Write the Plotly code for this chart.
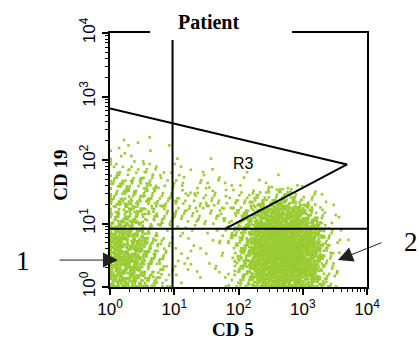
import numpy as np
import plotly.graph_objects as go

# Dot counts per grid cell (0.25 decade x 0.25 decade), rows from CD19 = 10^0 upward,
# columns from CD5 = 10^0 to 10^3.75
cell_size = 0.25
density_rows = [
    [60, 55, 28, 9, 2, 2, 2, 4, 30, 85, 115, 105, 65, 12, 1],
    [70, 62, 30, 9, 2, 2, 3, 5, 42, 115, 145, 140, 85, 15, 1],
    [70, 60, 28, 8, 2, 2, 3, 6, 42, 120, 150, 145, 88, 15, 1],
    [60, 50, 22, 7, 3, 3, 4, 8, 42, 115, 145, 135, 78, 12, 1],
    [30, 30, 20, 13, 10, 10, 10, 12, 25, 75, 95, 85, 42, 6, 0],
    [28, 28, 20, 13, 10, 10, 9, 8, 10, 22, 30, 24, 9, 1, 0],
    [20, 20, 13, 8, 6, 6, 5, 4, 3, 3, 2, 1, 0, 0, 0],
    [10, 8, 5, 3, 2, 1, 1, 0, 0, 0, 0, 0, 0, 0, 0],
    [3, 3, 2, 1, 0, 1, 0, 0, 0, 0, 0, 0, 0, 0, 0],
    [1, 0, 1, 0, 0, 0, 0, 0, 0, 0, 0, 0, 0, 0, 0],
]

# Quadrant cursors and the R3 gate
quad_x = 9.4
quad_y = 8.3
r3_x = [1, 4900, 63]
r3_y = [650, 85, 8.3]

tick_vals = [1, 10, 100, 1000, 10000]
tick_text = ["10<sup>0</sup>", "10<sup>1</sup>", "10<sup>2</sup>", "10<sup>3</sup>", "10<sup>4</sup>"]
minor_vals = [m * 10 ** d for d in range(4) for m in range(2, 10)]

# spread each cell's dots with a tent kernel two cells wide, driven by a
# 4-D low-discrepancy sequence, so neighbouring cells blend without seams
phi4 = 1.1673039782614187
alphas = [1.0 / phi4 ** k for k in range(1, 5)]
lx, ly = [], []
g = 0
for r, row in enumerate(density_rows):
    for c, n in enumerate(row):
        for k in range(n):
            g += 1
            u1, u2, v1, v2 = [(0.5 + g * a) % 1.0 for a in alphas]
            px = (c + 0.5 + (u1 + u2 - 1.0)) * cell_size
            py = (r + 0.5 + (v1 + v2 - 1.0)) * cell_size
            lx.append(max(px, 0.01))
            ly.append(max(py, 0.01))
xs = 10 ** np.array(lx)
ys = 10 ** np.array(ly)

fig = go.Figure()
fig.add_trace(go.Scatter(
    x=xs, y=ys, mode="markers",
    marker=dict(symbol="square", size=2.6, color="#99CC33", line=dict(width=0)),
    hoverinfo="skip", showlegend=False,
))

line_style = dict(color="black", width=2)
fig.add_trace(go.Scatter(x=[quad_x, quad_x], y=[1, 10000], mode="lines",
                         line=line_style, showlegend=False, hoverinfo="skip"))
fig.add_trace(go.Scatter(x=[1, 10000], y=[quad_y, quad_y], mode="lines",
                         line=line_style, showlegend=False, hoverinfo="skip"))
fig.add_trace(go.Scatter(x=r3_x, y=r3_y, mode="lines",
                         line=line_style, showlegend=False, hoverinfo="skip"))

axis_common = dict(
    type="log", range=[0, 4],
    tickvals=tick_vals, ticktext=tick_text,
    ticks="outside", ticklen=6, tickwidth=1.5, tickcolor="black",
    minor=dict(tickvals=minor_vals, ticks="outside", ticklen=3, tickcolor="black", tickwidth=1),
    showline=True, linecolor="black", linewidth=1.5, mirror=True,
    showgrid=False, zeroline=False,
    tickfont=dict(family="Liberation Sans, Arial", size=17, color="black"),
)

fig.update_layout(
    width=419, height=353,
    margin=dict(l=110, r=52, t=33, b=66),
    paper_bgcolor="white", plot_bgcolor="white",
    xaxis=dict(**axis_common),
    yaxis=dict(**axis_common, tickangle=-90),
    shapes=[
        dict(type="rect", xref="paper", yref="paper",
             x0=0.156, x1=0.708, y0=0.972, y1=1.2,
             fillcolor="white", line=dict(width=0), layer="above"),
    ],
    annotations=[
        dict(text="<b>Patient</b>", xref="paper", yref="paper", x=0.385, y=1.0,
             yanchor="bottom", yshift=-2, showarrow=False,
             font=dict(family="Liberation Serif, Times New Roman", size=20, color="black")),
        dict(text="<b>CD 5</b>", xref="paper", yref="paper", x=0.477, y=0,
             yshift=-55, showarrow=False,
             font=dict(family="Liberation Serif, Times New Roman", size=19, color="black")),
        dict(text="<b>CD 19</b>", xref="paper", yref="paper", x=0, xshift=-62, y=0.44,
             textangle=-90, showarrow=False,
             font=dict(family="Liberation Serif, Times New Roman", size=19, color="black")),
        dict(text="R3", x=np.log10(120), y=np.log10(88), showarrow=False,
             font=dict(family="Liberation Sans, Arial", size=16, color="black")),
        dict(text="1", xref="paper", yref="paper", x=0, xshift=-96, y=0.035, showarrow=False,
             font=dict(family="Liberation Serif, Times New Roman", size=27, color="black")),
        dict(text="2", xref="paper", yref="paper", x=1, xshift=53, y=0.11, showarrow=False,
             font=dict(family="Liberation Serif, Times New Roman", size=27, color="black")),
        dict(text="", xref="paper", yref="paper", x=0.031, y=0.106,
             ax=-60, ay=0, showarrow=True, arrowhead=2, arrowsize=3,
             arrowwidth=1, arrowcolor="#222222"),
        dict(text="", xref="paper", yref="paper", x=0.887, y=0.106,
             ax=45, ay=-18, showarrow=True, arrowhead=2, arrowsize=3,
             arrowwidth=1, arrowcolor="#222222"),
    ],
)

fig.write_html("out.html")
